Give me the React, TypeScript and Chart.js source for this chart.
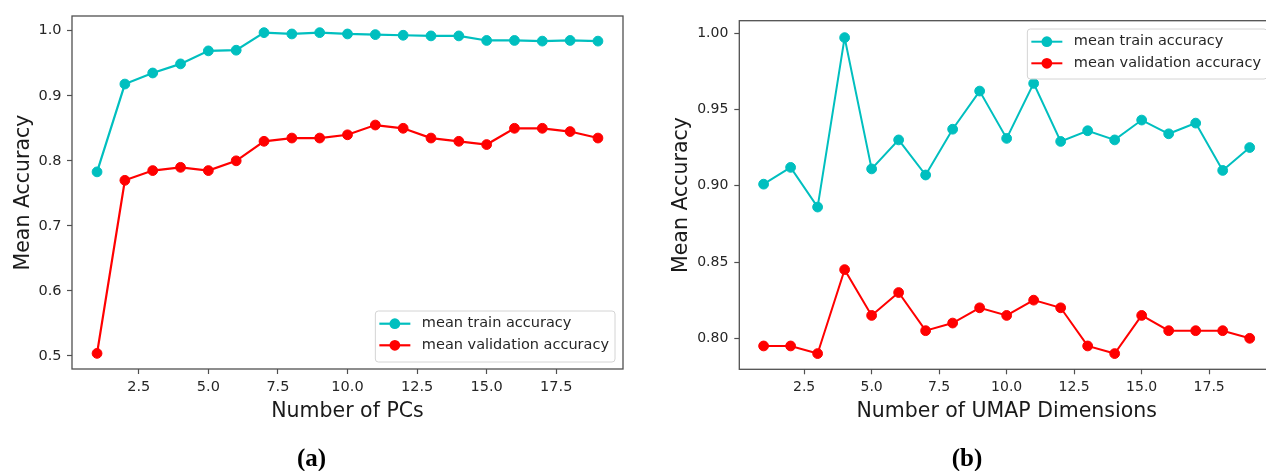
import React, { useEffect, useRef } from "react";
import { Chart, registerables } from "chart.js";

Chart.register(...registerables);

// ---------- data ----------
const pcCounts = [1, 2, 3, 4, 5, 6, 7, 8, 9, 10, 11, 12, 13, 14, 15, 16, 17, 18, 19];
const pcTrainAcc = [0.783, 0.918, 0.935, 0.949, 0.969, 0.970, 0.997, 0.995, 0.997, 0.995, 0.994, 0.993, 0.992, 0.992, 0.985, 0.985, 0.984, 0.985, 0.984];
const pcValAcc = [0.504, 0.770, 0.785, 0.790, 0.785, 0.800, 0.830, 0.835, 0.835, 0.840, 0.855, 0.850, 0.835, 0.830, 0.825, 0.850, 0.850, 0.845, 0.835];

const umapDims = [1, 2, 3, 4, 5, 6, 7, 8, 9, 10, 11, 12, 13, 14, 15, 16, 17, 18, 19];
const umapTrainAcc = [0.901, 0.912, 0.886, 0.997, 0.911, 0.930, 0.907, 0.937, 0.962, 0.931, 0.967, 0.929, 0.936, 0.930, 0.943, 0.934, 0.941, 0.910, 0.925];
const umapValAcc = [0.795, 0.795, 0.790, 0.845, 0.815, 0.830, 0.805, 0.810, 0.820, 0.815, 0.825, 0.820, 0.795, 0.790, 0.815, 0.805, 0.805, 0.805, 0.800];

const xTickValues = [2.5, 5.0, 7.5, 10.0, 12.5, 15.0, 17.5];
const pcYTicks = [0.5, 0.6, 0.7, 0.8, 0.9, 1.0];
const umapYTicks = [0.8, 0.85, 0.9, 0.95, 1.0];

const seriesLabels = ["mean train accuracy", "mean validation accuracy"];
const seriesColors = ["#00bfbf", "#ff0000"];

const captions = ["(a)", "(b)"];
const xTitles = ["Number of PCs", "Number of UMAP Dimensions"];
const yTitle = "Mean Accuracy";

// ---------- styling ----------
const SANS = '"DejaVu Sans", sans-serif';
const TEXT = "#262626";
const FRAME = "#505050";

const decorPlugin = {
  id: "mplDecor",
  afterDatasetsDraw(chart: any, _args: any, opts: any) {
    const { ctx, chartArea } = chart;
    const { left, top, right, bottom } = chartArea;
    ctx.save();
    // frame (all four spines)
    ctx.strokeStyle = FRAME;
    ctx.lineWidth = 1.3;
    ctx.strokeRect(left, top, right - left, bottom - top);
    // legend
    ctx.font = `${opts.fontSize}px ${SANS}`;
    const sets = chart.data.datasets;
    const textW = Math.max(...sets.map((d: any) => ctx.measureText(d.label).width));
    const w = opts.padLeft + opts.handleLen + opts.gap + textW + opts.padRight;
    const h = opts.boxHeight;
    const bx = right - opts.insetX - w;
    const by = opts.corner === "lower" ? bottom - opts.insetY - h : top + opts.insetY;
    ctx.beginPath();
    if (ctx.roundRect) ctx.roundRect(bx, by, w, h, 3);
    else ctx.rect(bx, by, w, h);
    ctx.fillStyle = "rgba(255,255,255,0.85)";
    ctx.fill();
    ctx.strokeStyle = "#d4d4d4";
    ctx.lineWidth = 1;
    ctx.stroke();
    sets.forEach((d: any, i: number) => {
      const cy = by + opts.firstRow + i * opts.rowGap;
      const x0 = bx + opts.padLeft;
      const x1 = x0 + opts.handleLen;
      ctx.strokeStyle = d.borderColor;
      ctx.lineWidth = d.borderWidth;
      ctx.beginPath();
      ctx.moveTo(x0, cy);
      ctx.lineTo(x1, cy);
      ctx.stroke();
      ctx.fillStyle = d.pointBackgroundColor;
      ctx.beginPath();
      ctx.arc((x0 + x1) / 2, cy, d.pointRadius + d.pointBorderWidth / 2, 0, Math.PI * 2);
      ctx.fill();
      ctx.fillStyle = TEXT;
      ctx.textBaseline = "middle";
      ctx.textAlign = "left";
      ctx.fillText(d.label, x1 + opts.gap, cy);
    });
    ctx.restore();
  },
};

type PanelSpec = {
  xs: number[];
  train: number[];
  val: number[];
  yMin: number;
  yMax: number;
  xMin: number;
  xMax: number;
  yTicks: number[];
  yDecimals: number;
  xTitle: string;
  caption: string;
  padding: { left: number; top: number; right: number; bottom: number };
  yWidth: number;
  yTitlePad: number;
  yTickPad: number;
  xHeight: number;
  captionPadTop: number;
  tickFont: number;
  lineWidth: number;
  legend: any;
};

function buildConfig(s: PanelSpec): any {
  const mk = (label: string, color: string, ys: number[]) => ({
    label,
    data: s.xs.map((x, i) => ({ x, y: ys[i] })),
    borderColor: color,
    backgroundColor: color,
    pointBackgroundColor: color,
    pointBorderColor: color,
    borderWidth: s.lineWidth,
    pointRadius: 4.9,
    pointBorderWidth: 1,
    pointHoverRadius: 4.9,
    tension: 0,
    fill: false,
    clip: false,
  });
  return {
    type: "line",
    data: {
      datasets: [
        mk(seriesLabels[0], seriesColors[0], s.train),
        mk(seriesLabels[1], seriesColors[1], s.val),
      ],
    },
    options: {
      responsive: false,
      animation: false,
      devicePixelRatio: 1,
      layout: { padding: s.padding },
      plugins: {
        legend: { display: false },
        tooltip: { enabled: false },
        title: {
          display: true,
          position: "bottom",
          text: s.caption,
          color: "#000",
          font: { family: '"Liberation Serif", serif', size: 25, weight: "bold", lineHeight: 0.9 },
          padding: { top: s.captionPadTop, bottom: 0 },
        },
        mplDecor: s.legend,
      },
      scales: {
        x: {
          type: "linear",
          min: s.xMin,
          max: s.xMax,
          afterBuildTicks: (sc: any) => {
            sc.ticks = xTickValues.map((v) => ({ value: v }));
          },
          afterFit: (sc: any) => {
            sc.height = s.xHeight;
          },
          ticks: {
            color: TEXT,
            font: { family: SANS, size: s.tickFont },
            padding: 5,
            maxRotation: 0,
            autoSkip: false,
            callback: (v: any) => Number(v).toFixed(1),
          },
          grid: { drawOnChartArea: false, drawTicks: true, tickLength: 5, tickColor: FRAME, tickWidth: 1.2 },
          border: { display: false },
          title: {
            display: true,
            text: s.xTitle,
            color: "#1a1a1a",
            font: { family: SANS, size: 20.5 },
            padding: { top: 0, bottom: -3 },
          },
        },
        y: {
          type: "linear",
          min: s.yMin,
          max: s.yMax,
          afterBuildTicks: (sc: any) => {
            sc.ticks = s.yTicks.map((v) => ({ value: v }));
          },
          afterFit: (sc: any) => {
            sc.width = s.yWidth;
          },
          ticks: {
            color: TEXT,
            font: { family: SANS, size: s.tickFont },
            padding: s.yTickPad,
            autoSkip: false,
            callback: (v: any) => Number(v).toFixed(s.yDecimals),
          },
          grid: { drawOnChartArea: false, drawTicks: true, tickLength: 5, tickColor: FRAME, tickWidth: 1.2 },
          border: { display: false },
          title: {
            display: true,
            text: yTitle,
            color: "#1a1a1a",
            font: { family: SANS, size: 20.5 },
            padding: { top: s.yTitlePad, bottom: 0 },
          },
        },
      },
    },
    plugins: [decorPlugin],
  };
}

function Panel(props: { spec: PanelSpec; left: number; width: number; height: number }) {
  const ref = useRef<HTMLCanvasElement | null>(null);
  useEffect(() => {
    if (!ref.current) return;
    const chart = new Chart(ref.current, buildConfig(props.spec));
    return () => chart.destroy();
  }, []);
  return (
    <canvas
      ref={ref}
      width={props.width}
      height={props.height}
      style={{ position: "absolute", left: props.left, top: 0, width: props.width, height: props.height }}
    />
  );
}

const legendBase = {
  fontSize: 14.5,
  padLeft: 4,
  handleLen: 31,
  gap: 11.5,
  padRight: 6,
  boxHeight: 51,
  firstRow: 12.7,
  rowGap: 21.6,
};

const leftSpec: PanelSpec = {
  xs: pcCounts,
  train: pcTrainAcc,
  val: pcValAcc,
  xMin: 0.1,
  xMax: 19.9,
  yMin: 0.48,
  yMax: 1.0226,
  yTicks: pcYTicks,
  yDecimals: 1,
  xTitle: xTitles[0],
  caption: captions[0],
  padding: { left: 0, top: 16, right: 17, bottom: 0 },
  yWidth: 72,
  yTitlePad: 11.5,
  yTickPad: 5.5,
  xHeight: 52,
  captionPadTop: 27.5,
  tickFont: 14.5,
  lineWidth: 2.2,
  legend: { ...legendBase, corner: "lower", insetX: 8, insetY: 7 },
};

const rightSpec: PanelSpec = {
  xs: umapDims,
  train: umapTrainAcc,
  val: umapValAcc,
  xMin: 0.1,
  xMax: 19.9,
  yMin: 0.7797,
  yMax: 1.0081,
  yTicks: umapYTicks,
  yDecimals: 2,
  xTitle: xTitles[1],
  caption: captions[1],
  padding: { left: 20, top: 20.7, right: 26, bottom: 0 },
  yWidth: 79.3,
  yTitlePad: 9,
  yTickPad: 6,
  xHeight: 52,
  captionPadTop: 27.2,
  tickFont: 14,
  lineWidth: 2,
  legend: { ...legendBase, boxHeight: 50, corner: "upper", insetX: 7, insetY: 8.3 },
};

export default function App() {
  return (
    <div
      style={{
        position: "fixed",
        left: 0,
        top: 0,
        width: 1266,
        height: 471,
        overflow: "hidden",
        background: "#ffffff",
      }}
    >
      <Panel spec={leftSpec} left={0} width={640} height={471} />
      <Panel spec={rightSpec} left={640} width={660} height={471} />
    </div>
  );
}
